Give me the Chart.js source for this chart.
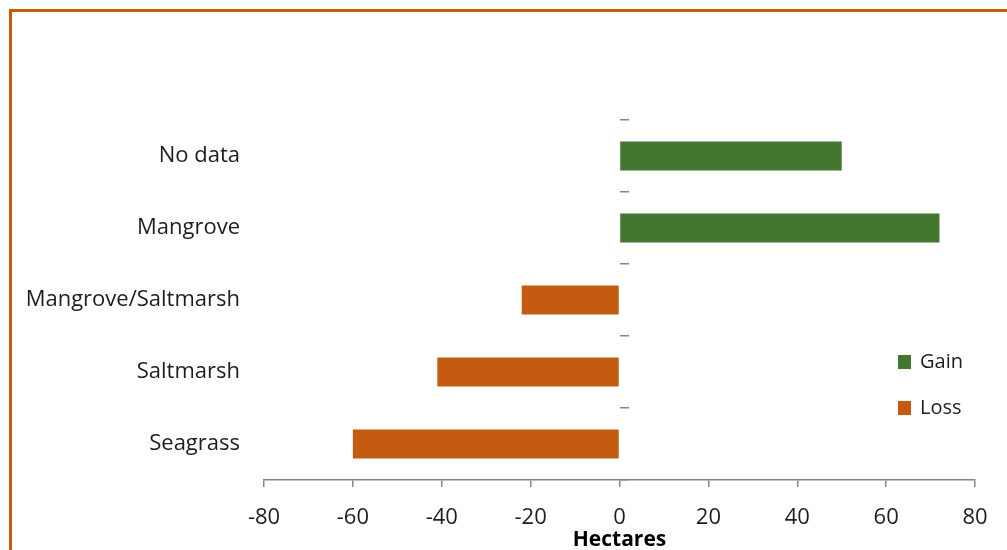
<!DOCTYPE html>
<html>
<head>
<meta charset="utf-8">
<script src="https://cdn.jsdelivr.net/npm/chart.js@4.4.1/dist/chart.umd.min.js"></script>
<style>
  html, body { margin: 0; padding: 0; background: #ffffff; overflow: hidden; }
  #wrap { position: relative; width: 1007px; height: 550px; }
  #frame {
    position: absolute; left: 9px; top: 9px; width: 1100px; height: 700px;
    border-top: 3px solid #C55A11; border-left: 3px solid #C55A11;
  }
  canvas { position: absolute; left: 0; top: 0; }
</style>
</head>
<body>
<div id="wrap">
  <div id="frame"></div>
  <canvas id="chart" width="1007" height="550"></canvas>
</div>
<script>
// Habitat categories (top to bottom)
const categories = ['No data', 'Mangrove', 'Mangrove/Saltmarsh', 'Saltmarsh', 'Seagrass'];
// Change in area, hectares
const gainValues = [50, 72, null, null, null];
const lossValues = [null, null, -22, -41, -60];
// Value axis ticks
const axisMin = -80;
const axisMax = 80;
const axisStep = 20;
const axisTitle = 'Hectares';

const GREEN = '#43772F';
const ORANGE = '#C55A11';
const TEXT = '#1E1E1E';
const AXIS = '#868686';
const FONT = "'Open Sans', 'DejaVu Sans', sans-serif";

// Small legend drawn inside the plot area, lower right
const insideLegend = {
  id: 'insideLegend',
  afterDraw(chart, args, opts) {
    const ctx = chart.ctx;
    ctx.save();
    ctx.font = '20px ' + FONT;
    ctx.textBaseline = 'middle';
    ctx.textAlign = 'left';
    chart.data.datasets.forEach((ds, i) => {
      const cy = opts.y + i * opts.gap;
      ctx.fillStyle = ds.backgroundColor;
      ctx.fillRect(opts.x, cy - 7, 13, 14);
      ctx.fillStyle = TEXT;
      ctx.fillText(ds.label, opts.x + 22, cy);
    });
    ctx.restore();
  }
};

new Chart(document.getElementById('chart'), {
  type: 'bar',
  data: {
    labels: categories,
    datasets: [
      { label: 'Gain', data: gainValues, backgroundColor: GREEN },
      { label: 'Loss', data: lossValues, backgroundColor: ORANGE }
    ]
  },
  options: {
    indexAxis: 'y',
    responsive: false,
    animation: false,
    layout: { padding: { left: 0, right: 32, top: 120, bottom: 0 } },
    datasets: { bar: { grouped: false, barPercentage: 0.4, categoryPercentage: 1.0 } },
    plugins: {
      legend: { display: false },
      tooltip: { enabled: false },
      insideLegend: { x: 898, y: 362, gap: 46 }
    },
    scales: {
      x: {
        min: axisMin, max: axisMax,
        ticks: { stepSize: axisStep, color: TEXT, font: { family: FONT, size: 22 }, padding: 18 },
        grid: { drawOnChartArea: false, drawTicks: true, tickLength: 7, color: AXIS, lineWidth: 1.5 },
        border: { display: true, color: AXIS, width: 1.5 },
        title: { display: true, text: axisTitle, color: '#000', padding: { top: 0, bottom: -1 },
                 font: { family: FONT, size: 21, weight: 'bold', lineHeight: 1 } },
        afterFit(scale) { scale.height = 70; }
      },
      y: {
        offset: true,
        ticks: { color: TEXT, font: { family: FONT, size: 22 }, padding: 24 },
        grid: { display: false, drawTicks: false },
        border: { display: false },
        afterFit(scale) { scale.width = 264; }
      },
      yMarks: {
        type: 'category',
        axis: 'y',
        position: { x: 0 },
        offset: true,
        ticks: { display: false },
        grid: { offset: true, drawOnChartArea: false, drawTicks: true, tickLength: -9, color: AXIS, lineWidth: 1.5 },
        border: { display: false }
      }
    }
  },
  plugins: [insideLegend]
});
</script>
</body>
</html>
